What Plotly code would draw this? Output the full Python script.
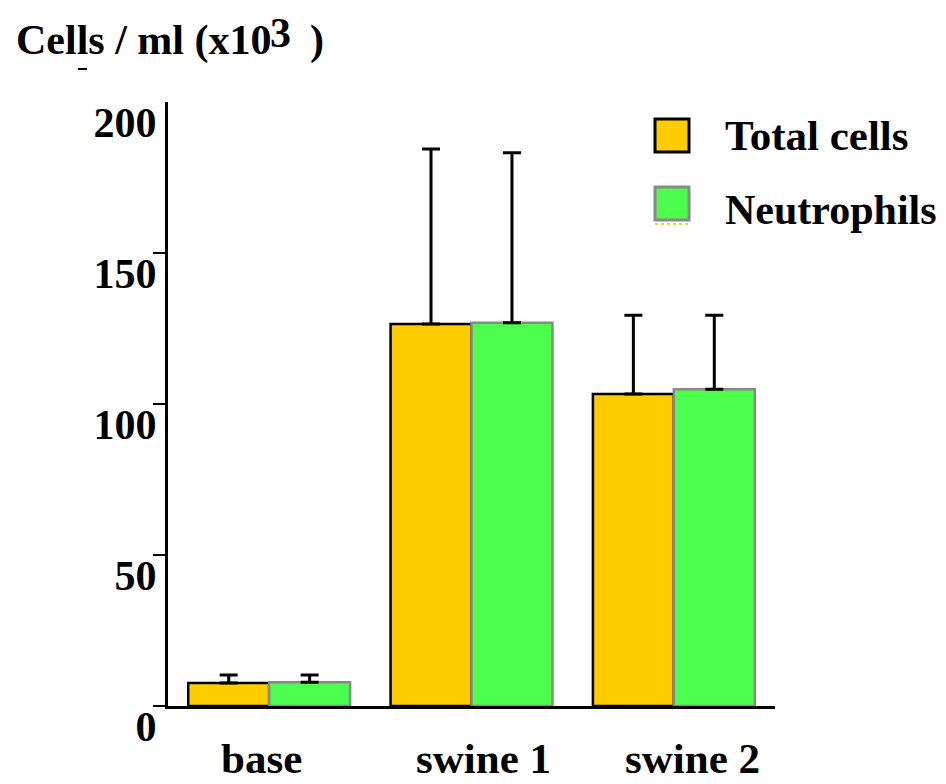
import plotly.graph_objects as go

categories = ["base", "swine 1", "swine 2"]
total_cells = [7.6, 126.5, 103.3]
total_err = [2.7, 57.9, 26.1]
neutrophils = [7.9, 126.9, 104.9]
neutro_err = [2.4, 56.3, 24.5]
y_ticks = [0, 50, 100, 150, 200]

W, H = 946, 784
OFF = 8  # default page body margin
# target plot area on screen: x 168..775, y 102..706
L, T = 168 - OFF, 102 - OFF
R, B = W - (775 - OFF), H - (706 - OFF)
PW, PH = W - L - R, H - T - B

def px(x):
    return (x - OFF - L) / PW

def py(y):
    return (H - B - (y - OFF)) / PH

FONT = "Liberation Serif, Times New Roman, serif"
ORANGE = "#FFCC00"
GREEN = "#4CFF4C"
FS = 42

fig = go.Figure()
fig.add_trace(go.Bar(
    x=categories, y=total_cells, name="Total cells",
    marker=dict(color=ORANGE, line=dict(color="black", width=2.5)),
    error_y=dict(type="data", array=total_err, arrayminus=[0, 0, 0],
                 color="black", thickness=3, width=9),
))
fig.add_trace(go.Bar(
    x=categories, y=neutrophils, name="Neutrophils",
    marker=dict(color=GREEN, line=dict(color="#888888", width=2.5)),
    error_y=dict(type="data", array=neutro_err, arrayminus=[0, 0, 0],
                 color="black", thickness=3, width=9),
))

fig.update_layout(
    width=W, height=H,
    margin=dict(l=L, r=R, t=T, b=B, pad=0, autoexpand=False),
    paper_bgcolor="white", plot_bgcolor="white",
    barmode="group", bargap=0.2, bargroupgap=0,
    showlegend=False,
    font=dict(family=FONT, size=FS, color="black", weight="bold"),
)
fig.update_xaxes(
    range=[-0.5, 2.5], showline=True, linecolor="black", linewidth=3,
    ticks="", showgrid=False, zeroline=False, automargin=False,
    showticklabels=False,
)
fig.update_yaxes(
    range=[0, 200], showline=True, linecolor="black", linewidth=3,
    tickvals=y_ticks, ticktext=[str(v) for v in y_ticks],
    ticks="", showgrid=False, zeroline=False, automargin=False,
    tickfont=dict(family=FONT, size=FS, color="black", weight="bold"),
    ticklabelshift=20, ticklabelstandoff=0,
    minor=dict(tickvals=y_ticks[:-1], ticks="outside", ticklen=12,
               tickwidth=2, tickcolor="black", showgrid=False),
)

# category labels (slightly offset from the bar groups, as in the original)
label_shift = [-0.04, 0.06, 0.09]
for i, cat in enumerate(categories):
    fig.add_annotation(text=cat, xref="x", yref="paper",
                       x=i + label_shift[i], y=py(758),
                       xanchor="center", yanchor="middle", showarrow=False,
                       font=dict(family=FONT, size=FS + 1, weight="bold"))

# title
fig.add_annotation(text="Cells / ml (x10", xref="paper", yref="paper",
                   x=px(14), y=py(40), xanchor="left", yanchor="middle",
                   showarrow=False, font=dict(family=FONT, size=FS, weight="bold"))
fig.add_annotation(text="3", xref="paper", yref="paper",
                   x=px(268), y=py(33), xanchor="left", yanchor="middle",
                   showarrow=False, font=dict(family=FONT, size=FS, weight="bold"))
fig.add_annotation(text=")", xref="paper", yref="paper",
                   x=px(308), y=py(40), xanchor="left", yanchor="middle",
                   showarrow=False, font=dict(family=FONT, size=FS, weight="bold"))
# stray tick dash
fig.add_shape(type="line", xref="paper", yref="paper",
              x0=px(78), x1=px(87), y0=py(69), y1=py(69),
              line=dict(color="black", width=2))

# legend
fig.add_shape(type="rect", xref="paper", yref="paper",
              x0=px(655), x1=px(689), y0=py(152), y1=py(119),
              fillcolor=ORANGE, line=dict(color="black", width=3))
fig.add_shape(type="rect", xref="paper", yref="paper",
              x0=px(655), x1=px(689), y0=py(220), y1=py(187),
              fillcolor=GREEN, line=dict(color="#888888", width=3))
fig.add_shape(type="line", xref="paper", yref="paper",
              x0=px(655), x1=px(689), y0=py(224), y1=py(224),
              line=dict(color="#FFD700", width=2, dash="dot"))
fig.add_annotation(text="Total cells", xref="paper", yref="paper",
                   x=px(723), y=py(136), xanchor="left", yanchor="middle",
                   showarrow=False, font=dict(family=FONT, size=FS + 1, weight="bold"))
fig.add_annotation(text="Neutrophils", xref="paper", yref="paper",
                   x=px(723), y=py(210), xanchor="left", yanchor="middle",
                   showarrow=False, font=dict(family=FONT, size=FS, weight="bold"))

fig.write_html("out.html")
